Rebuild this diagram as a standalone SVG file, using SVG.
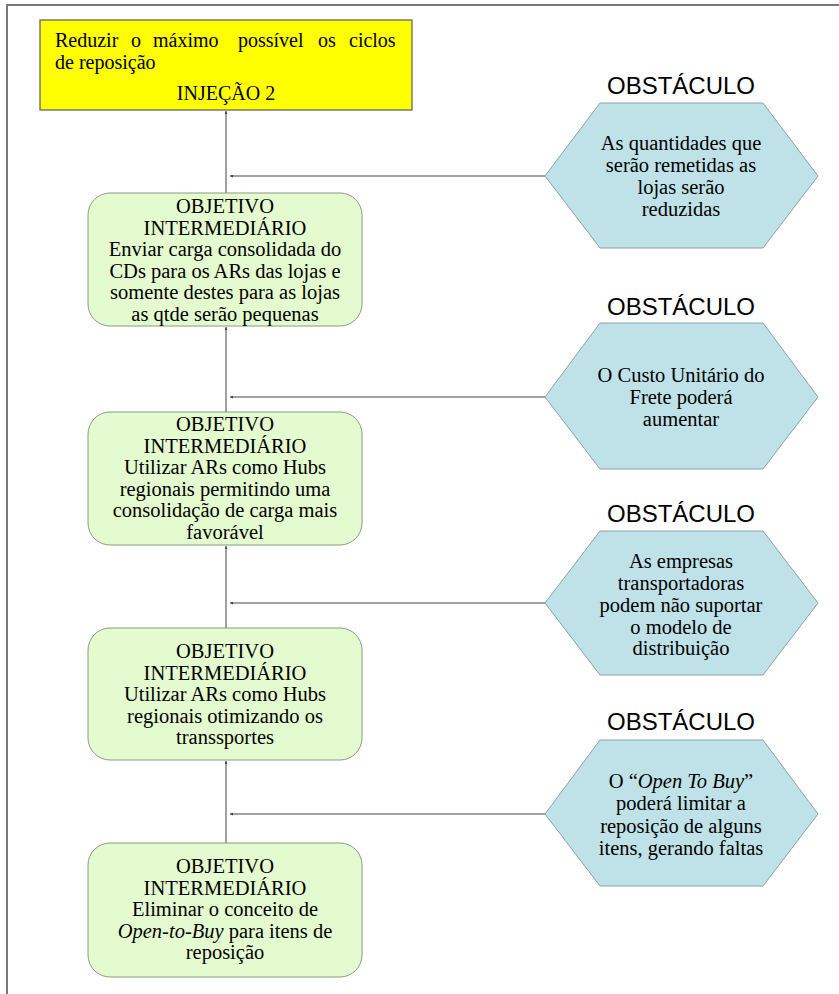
<svg xmlns="http://www.w3.org/2000/svg" width="839" height="994" viewBox="0 0 839 994">
  <style>
    .frame { stroke: #7a7a7a; stroke-width: 2; fill: none; }
    .goal { fill: #ffff00; stroke: #5a5a5a; stroke-width: 1.2; }
    .obj { fill: #e4fbcf; stroke: #8a9a80; stroke-width: 1; }
    .obs { fill: #bfe2e8; stroke: #8aa2a6; stroke-width: 1; }
    .t { font-family: "Liberation Serif", "Times New Roman", serif; font-size: 20.5px; fill: #000; text-anchor: middle; }
    .tl { font-family: "Liberation Serif", "Times New Roman", serif; font-size: 20px; fill: #000; }
    .h { font-family: "Liberation Sans", Arial, sans-serif; font-size: 24px; fill: #000; text-anchor: middle; }
    .link { stroke: #444; stroke-width: 1; fill: none; marker-end: url(#tip); }
  </style>
  <defs>
    <marker id="tip" viewBox="0 0 6 6" refX="6" refY="3" markerWidth="3" markerHeight="3" orient="auto">
      <path d="M0,0 L6,3 L0,6 z" fill="#444"/>
    </marker>
  </defs>

  <rect width="839" height="994" fill="#fff"/>
  <!-- page frame (top and left edges) -->
  <path class="frame" d="M839,5 H7 V994"/>

  <!-- connectors -->
  <g id="connectors">
    <line class="link" x1="226" y1="193" x2="226" y2="111"/>
    <line class="link" x1="226" y1="412" x2="226" y2="327"/>
    <line class="link" x1="226" y1="628" x2="226" y2="546"/>
    <line class="link" x1="226" y1="843" x2="226" y2="761"/>
    <line class="link" x1="545" y1="176" x2="230" y2="176"/>
    <line class="link" x1="545" y1="397" x2="230" y2="397"/>
    <line class="link" x1="545" y1="603" x2="230" y2="603"/>
    <line class="link" x1="545" y1="814" x2="230" y2="814"/>
  </g>

  <!-- injection / goal (first line justified word by word) -->
  <g id="injecao">
    <rect class="goal" x="40" y="20" width="372" height="90"/>
    <text class="tl" y="47"><tspan x="55">Reduzir</tspan><tspan x="131">o</tspan><tspan x="153">máximo</tspan><tspan x="238">possível</tspan><tspan x="318">os</tspan><tspan x="349">ciclos</tspan></text>
    <text class="tl" x="55" y="69">de reposição</text>
    <text class="tl" x="226" y="100" text-anchor="middle">INJEÇÃO 2</text>
  </g>

  <!-- intermediate objectives -->
  <g id="objetivo1">
    <rect class="obj" x="88" y="193" width="274" height="133" rx="22"/>
    <text class="t" x="225" y="213">OBJETIVO</text>
    <text class="t" x="225" y="234.5">INTERMEDIÁRIO</text>
    <text class="t" x="225" y="256">Enviar carga consolidada do</text>
    <text class="t" x="225" y="277.5">CDs para os ARs das lojas e</text>
    <text class="t" x="225" y="299">somente destes para as lojas</text>
    <text class="t" x="225" y="320.5">as qtde serão pequenas</text>
  </g>

  <g id="objetivo2">
    <rect class="obj" x="88" y="412" width="274" height="133" rx="22"/>
    <text class="t" x="225" y="431">OBJETIVO</text>
    <text class="t" x="225" y="452.5">INTERMEDIÁRIO</text>
    <text class="t" x="225" y="474">Utilizar ARs como Hubs</text>
    <text class="t" x="225" y="495.5">regionais permitindo uma</text>
    <text class="t" x="225" y="517">consolidação de carga mais</text>
    <text class="t" x="225" y="538.5">favorável</text>
  </g>

  <g id="objetivo3">
    <rect class="obj" x="88" y="628" width="274" height="132" rx="22"/>
    <text class="t" x="225" y="658">OBJETIVO</text>
    <text class="t" x="225" y="679.5">INTERMEDIÁRIO</text>
    <text class="t" x="225" y="701">Utilizar ARs como Hubs</text>
    <text class="t" x="225" y="722.5">regionais otimizando os</text>
    <text class="t" x="225" y="744">transsportes</text>
  </g>

  <g id="objetivo4">
    <rect class="obj" x="88" y="843" width="274" height="134" rx="22"/>
    <text class="t" x="225" y="873">OBJETIVO</text>
    <text class="t" x="225" y="894.5">INTERMEDIÁRIO</text>
    <text class="t" x="225" y="916">Eliminar o conceito de</text>
    <text class="t" x="225" y="937.5"><tspan font-style="italic">Open-to-Buy</tspan> para itens de</text>
    <text class="t" x="225" y="959">reposição</text>
  </g>

  <!-- obstacles -->
  <g id="obstaculo1">
    <text class="h" x="681" y="94">OBSTÁCULO</text>
    <polygon class="obs" points="545,176 600,103 763,103 818,176 763,248 600,248"/>
    <text class="t" x="681" y="150">As quantidades que</text>
    <text class="t" x="681" y="172">serão remetidas as</text>
    <text class="t" x="681" y="194">lojas serão</text>
    <text class="t" x="681" y="216">reduzidas</text>
  </g>

  <g id="obstaculo2">
    <text class="h" x="681" y="315">OBSTÁCULO</text>
    <polygon class="obs" points="545,397 600,323 763,323 818,397 763,469 600,469"/>
    <text class="t" x="681" y="382">O Custo Unitário do</text>
    <text class="t" x="681" y="404">Frete poderá</text>
    <text class="t" x="681" y="426">aumentar</text>
  </g>

  <g id="obstaculo3">
    <text class="h" x="681" y="522">OBSTÁCULO</text>
    <polygon class="obs" points="545,603 600,531 763,531 818,603 763,675 600,675"/>
    <text class="t" x="681" y="568">As empresas</text>
    <text class="t" x="681" y="590">transportadoras</text>
    <text class="t" x="681" y="612">podem não suportar</text>
    <text class="t" x="681" y="634">o modelo de</text>
    <text class="t" x="681" y="655">distribuição</text>
  </g>

  <g id="obstaculo4">
    <text class="h" x="681" y="730">OBSTÁCULO</text>
    <polygon class="obs" points="545,814 600,740 763,740 818,814 763,886 600,886"/>
    <text class="t" x="681" y="788">O “<tspan font-style="italic">Open To Buy</tspan>”</text>
    <text class="t" x="681" y="810">poderá limitar a</text>
    <text class="t" x="681" y="833">reposição de alguns</text>
    <text class="t" x="681" y="855">itens, gerando faltas</text>
  </g>
</svg>
